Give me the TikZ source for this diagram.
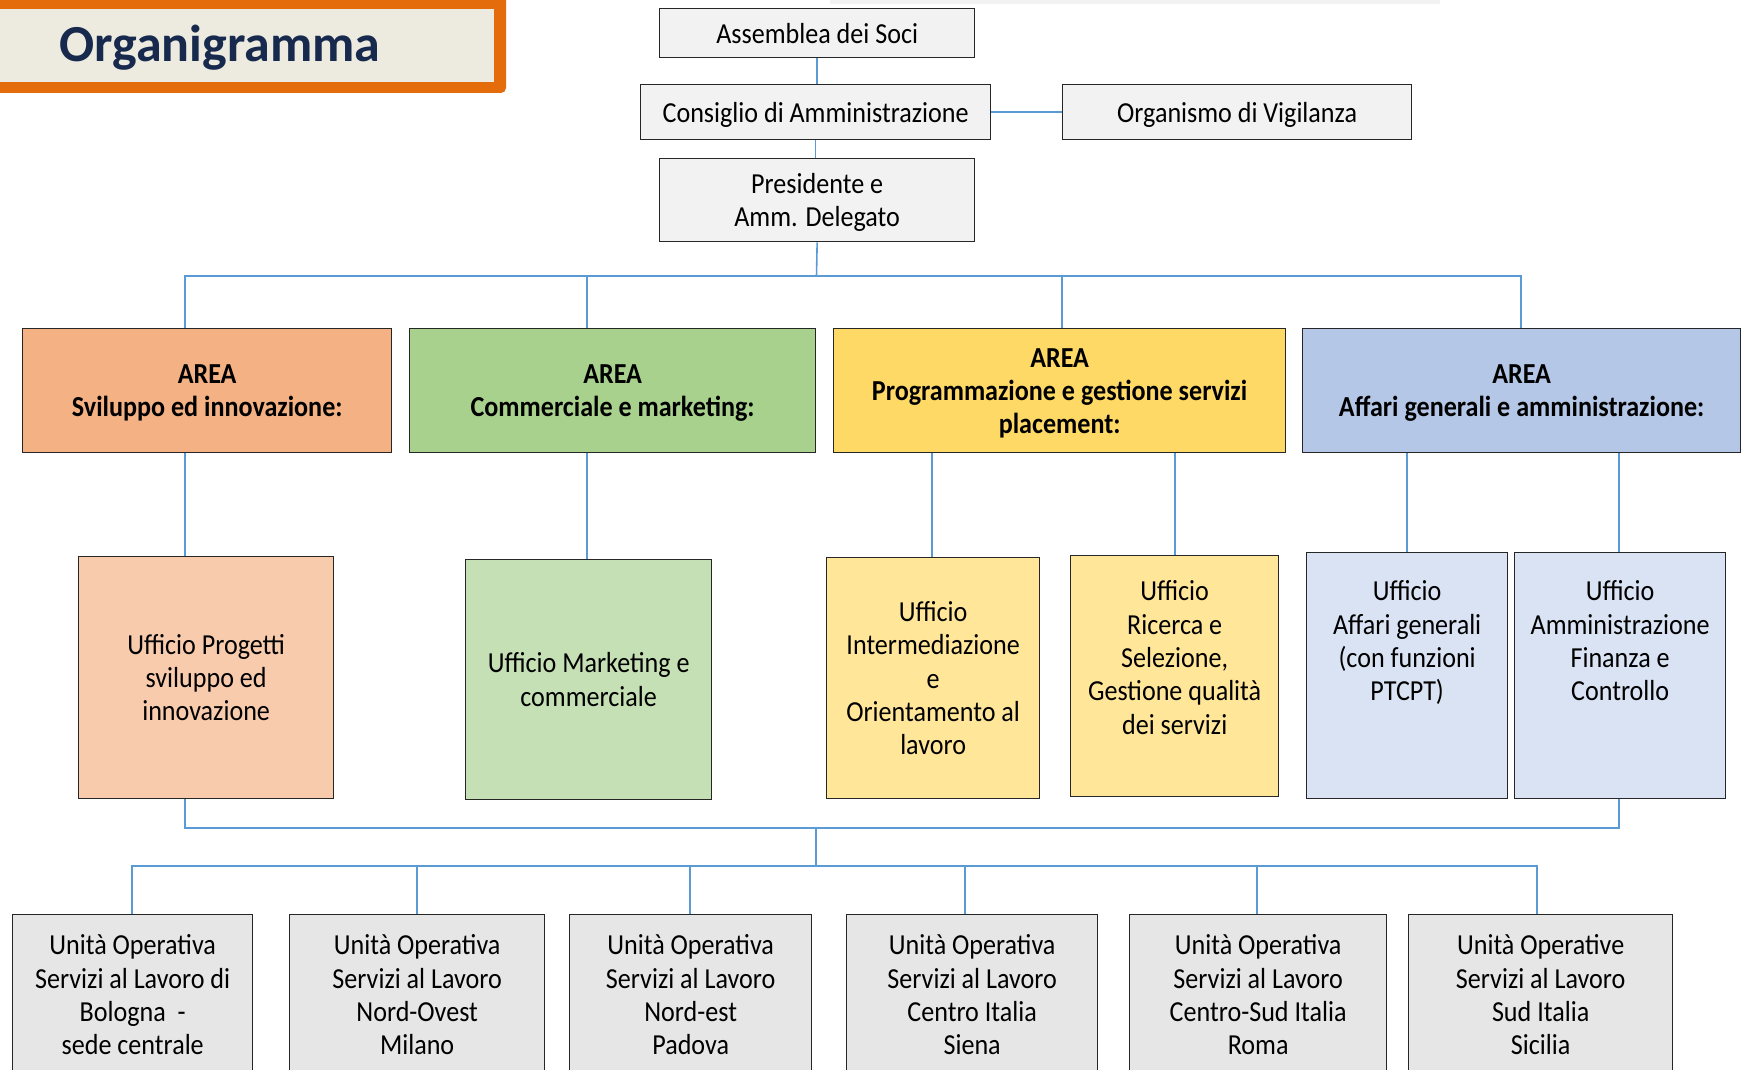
\documentclass[tikz,border=0pt]{standalone}
\usepackage{fontspec}
\setmainfont{Carlito}[FakeStretch=0.9]
\newfontfamily\titlefont{Carlito}
\usetikzlibrary{calc}
\definecolor{linkblue}{HTML}{5B9BD5}
\definecolor{titleorange}{HTML}{E46C0A}
\definecolor{titlefill}{HTML}{EDEBE0}
\definecolor{titleblue}{HTML}{17294D}
\definecolor{topgray}{HTML}{F2F2F2}
\definecolor{botgray}{HTML}{E7E6E6}
\definecolor{aorange}{HTML}{F4B183}
\definecolor{lorange}{HTML}{F8CBAD}
\definecolor{agreen}{HTML}{A9D18E}
\definecolor{lgreen}{HTML}{C5E0B4}
\definecolor{ayellow}{HTML}{FFD966}
\definecolor{lyellow}{HTML}{FFE699}
\definecolor{ablue}{HTML}{B4C7E7}
\definecolor{lblue}{HTML}{DAE3F3}
\newcommand\bodyfont{\fontsize{29}{33.4}\selectfont}
\newcommand\areafont{\fontsize{29}{33}\selectfont\bfseries}
\tikzset{
  cellbox/.style={draw=black!85, line width=1.3pt, inner sep=0pt, anchor=north west, font=\bodyfont},
  ctrbox/.style={cellbox, align=center},
  areabox/.style={cellbox, align=center, font=\areafont, minimum height=124pt, text depth=0pt},
  link/.style={draw=linkblue, line width=1.6pt},
}
\newcommand\topcell[4]{\parbox[c][#2][t]{#1}{\centering\vspace*{#3}\strut #4}}
\begin{document}
\begin{tikzpicture}[x=1pt,y=-1pt]
\useasboundingbox (0,0) rectangle (1743,1070);
\clip (0,0) rectangle (1743,1070);
% faint band at top
\fill[black!5] (830,0) rectangle (1440,4);
% title
\fill[titleorange, rounded corners=5pt] (-20,-20) rectangle (506,93);
\fill[titlefill] (-20,9) rectangle (494,82);
\node[font=\titlefont\bfseries\fontsize{52}{60}\selectfont, text=titleblue, anchor=base, inner sep=0pt] (title) at (220,62) {Organigramma};
% governance
\node[ctrbox, fill=topgray, minimum width=315pt, minimum height=49pt] (ass) at (659,8) {Assemblea dei Soci};
\node[ctrbox, fill=topgray, minimum width=350pt, minimum height=55pt, text depth=0pt] (cda) at (640,84) {Consiglio di Amministrazione};
\node[ctrbox, fill=topgray, minimum width=349pt, minimum height=55pt, text depth=0pt] (odv) at (1062,84) {Organismo di Vigilanza};
\node[ctrbox, fill=topgray, minimum width=315pt, minimum height=83pt, text depth=0pt] (pres) at (659,158) {Presidente e\\Amm. Delegato};
% areas
\node[areabox, fill=aorange, minimum width=369pt] (a1) at (22,328) {AREA\\Sviluppo ed innovazione:};
\node[areabox, fill=agreen, minimum width=406pt] (a2) at (409,328) {AREA\\Commerciale e marketing:};
\node[areabox, fill=ayellow, minimum width=452pt] (a3) at (833,328) {AREA\\Programmazione e gestione servizi\\placement:};
\node[areabox, fill=ablue, minimum width=438pt] (a4) at (1302,328) {AREA\\Affari generali e amministrazione:};
% offices
\node[ctrbox, fill=lorange, minimum width=255pt, minimum height=242pt] (o1) at (78,556) {Ufficio Progetti\\sviluppo ed\\innovazione};
\node[ctrbox, fill=lgreen, minimum width=246pt, minimum height=240pt] (o2) at (465,559) {Ufficio Marketing e\\commerciale};
\node[ctrbox, fill=lyellow, minimum width=213pt, minimum height=241pt] (o3) at (826,557) {Ufficio\\Intermediazione\\e\\Orientamento al\\lavoro};
\node[cellbox, fill=lyellow] (o4) at (1070,555) {\topcell{208pt}{241pt}{21.6pt}{Ufficio\\Ricerca e\\Selezione,\\Gestione qualità\\dei servizi}};
\node[cellbox, fill=lblue] (o5) at (1306,552) {\topcell{201pt}{246pt}{24.6pt}{Ufficio\\Affari generali\\(con funzioni\\PTCPT)}};
\node[cellbox, fill=lblue] (o6) at (1514,552) {\topcell{211pt}{246pt}{24.6pt}{Ufficio\\Amministrazione\\Finanza e\\Controllo}};
% operative units
\node[cellbox, fill=botgray] (b1) at (12,914) {\topcell{240pt}{200pt}{16.6pt}{Unità Operativa\\Servizi al Lavoro di\\Bologna\ \ -\\sede centrale}};
\node[cellbox, fill=botgray] (b2) at (289,914) {\topcell{255pt}{200pt}{16.6pt}{Unità Operativa\\Servizi al Lavoro\\Nord-Ovest\\Milano}};
\node[cellbox, fill=botgray] (b3) at (569,914) {\topcell{242pt}{200pt}{16.6pt}{Unità Operativa\\Servizi al Lavoro\\Nord-est\\Padova}};
\node[cellbox, fill=botgray] (b4) at (846,914) {\topcell{251pt}{200pt}{16.6pt}{Unità Operativa\\Servizi al Lavoro\\Centro Italia\\Siena}};
\node[cellbox, fill=botgray] (b5) at (1129,914) {\topcell{257pt}{200pt}{16.6pt}{Unità Operativa\\Servizi al Lavoro\\Centro-Sud Italia\\Roma}};
\node[cellbox, fill=botgray] (b6) at (1408,914) {\topcell{264pt}{200pt}{16.6pt}{Unità Operative\\Servizi al Lavoro\\Sud Italia\\Sicilia}};
% bus coordinates
\coordinate (hub) at (816.5,276);
\coordinate (tA1) at (185,276);
\coordinate (tA2) at (587,276);
\coordinate (tA3) at (1062,276);
\coordinate (tA4) at (1521,276);
\coordinate (xO3) at (932,0);
\coordinate (xO4) at (1175,0);
\coordinate (xO5) at (1407,0);
\coordinate (xO6) at (1619,0);
\coordinate (m1) at (185,828);
\coordinate (m2) at (1619,828);
\coordinate (hub2) at (816,828);
\coordinate (hub3) at (816,866);
\coordinate (k1) at (132,866);
\coordinate (k2) at (417,866);
\coordinate (k3) at (690,866);
\coordinate (k4) at (965,866);
\coordinate (k5) at (1257,866);
\coordinate (k6) at (1537,866);
% connectors
\draw[link] (ass.south) -- (ass.south |- cda.north);
\draw[link] (cda.east) -- (odv.west);
\draw[link] (cda.south) -- (cda.south |- pres.north);
\draw[link] (pres.south) -- (hub);
\draw[link] (tA1 |- a1.north) -- (tA1) -- (tA4) -- (tA4 |- a4.north);
\draw[link] (tA2) -- (tA2 |- a2.north);
\draw[link] (tA3) -- (tA3 |- a3.north);
\draw[link] (tA1 |- a1.south) -- (tA1 |- o1.north);
\draw[link] (tA2 |- a2.south) -- (tA2 |- o2.north);
\draw[link] (xO3 |- a3.south) -- (xO3 |- o3.north);
\draw[link] (xO4 |- a3.south) -- (xO4 |- o4.north);
\draw[link] (xO5 |- a4.south) -- (xO5 |- o5.north);
\draw[link] (xO6 |- a4.south) -- (xO6 |- o6.north);
\draw[link] (tA1 |- o1.south) -- (m1) -- (m2) -- (xO6 |- o6.south);
\draw[link] (hub2) -- (hub3);
\draw[link] (k1 |- b1.north) -- (k1) -- (k6) -- (k6 |- b6.north);
\draw[link] (k2) -- (k2 |- b2.north);
\draw[link] (k3) -- (k3 |- b3.north);
\draw[link] (k4) -- (k4 |- b4.north);
\draw[link] (k5) -- (k5 |- b5.north);
\end{tikzpicture}
\end{document}
